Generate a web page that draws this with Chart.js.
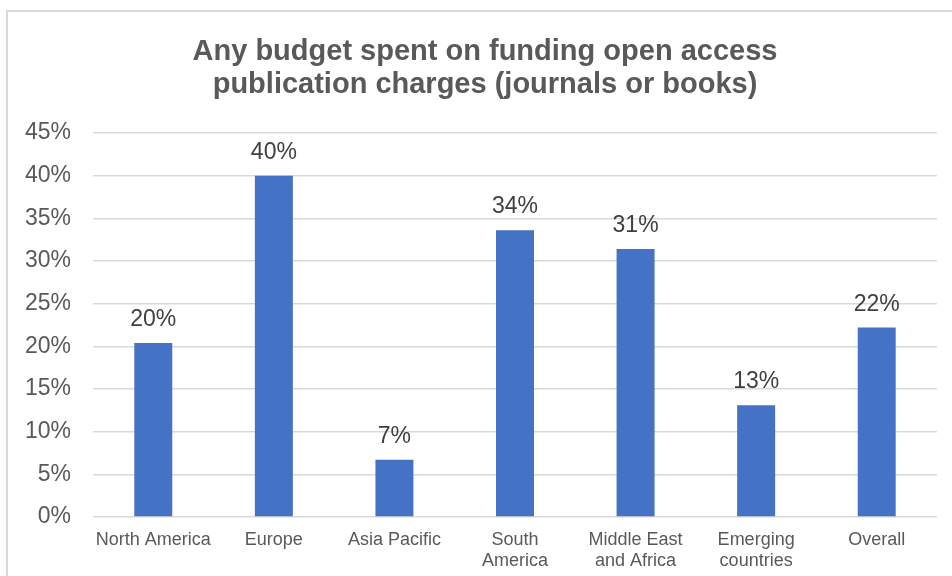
<!DOCTYPE html>
<html>
<head>
<meta charset="utf-8">
<script src="https://cdn.jsdelivr.net/npm/chart.js@4"></script>
<style>
    html, body { margin: 0; padding: 0; background: #fff; overflow: hidden; }
    #frame {
        position: absolute; left: 6px; top: 10px;
        width: 980px; height: 620px;
        border: 2px solid #d9d9d9;
    }
    #chart { position: absolute; left: 0; top: 0; }
</style>
</head>
<body>
<div id="frame"></div>
<canvas id="chart" width="952" height="576"></canvas>
<script>
const titleLines = ["Any budget spent on funding open access", "publication charges (journals or books)"];
const regions = ["North America", ["Europe"], "Asia Pacific", ["South", "America"], ["Middle East", "and Africa"], ["Emerging", "countries"], "Overall"];
const shareSpent = [20.4, 40.0, 6.7, 33.6, 31.4, 13.1, 22.2];
const yTicks = [0, 5, 10, 15, 20, 25, 30, 35, 40, 45];

const FONT = "'Liberation Sans', Arial, sans-serif";
const GREY = "#595959";

// two-line heading, centred a bit right of the canvas middle like the Excel original
const heading = {
    id: "heading",
    afterDraw(chart) {
        const ctx = chart.ctx;
        ctx.save();
        ctx.font = "bold 29px " + FONT;
        ctx.fillStyle = GREY;
        ctx.textAlign = "center";
        ctx.textBaseline = "alphabetic";
        titleLines.forEach((line, i) => {
            ctx.fillText(line, 485, 60 + i * 33);
        });
        ctx.restore();
    }
};

// value labels above each bar
const barLabels = {
    id: "barLabels",
    afterDatasetsDraw(chart) {
        const ctx = chart.ctx;
        const meta = chart.getDatasetMeta(0);
        ctx.save();
        ctx.font = "23px " + FONT;
        ctx.fillStyle = "#404040";
        ctx.textAlign = "center";
        ctx.textBaseline = "alphabetic";
        meta.data.forEach((bar, i) => {
            const val = chart.data.datasets[0].data[i];
            ctx.fillText(Math.round(val) + "%", bar.x, bar.y - 17);
        });
        ctx.restore();
    }
};

const chart = new Chart(document.getElementById("chart"), {
    type: "bar",
    data: {
        labels: regions,
        datasets: [{
            data: shareSpent,
            backgroundColor: "#4472C4",
            borderWidth: 0,
            categoryPercentage: 1,
            barPercentage: 0.315
        }]
    },
    options: {
        responsive: false,
        animation: false,
        layout: { padding: { left: 0, right: 15, top: 133, bottom: 0 } },
        plugins: {
            legend: { display: false },
            tooltip: { enabled: false },
            title: { display: false }
        },
        scales: {
            x: {
                grid: { display: false },
                border: { display: false },
                ticks: {
                    color: GREY,
                    font: { family: FONT, size: 18, lineHeight: 1.14 },
                    padding: 5,
                    maxRotation: 0,
                    autoSkip: false
                },
                afterFit: (scale) => { scale.height = 59; }
            },
            y: {
                min: 0,
                max: 45,
                afterBuildTicks: (scale) => { scale.ticks = yTicks.map(v => ({ value: v })); },
                grid: { color: "#d9d9d9", lineWidth: 1.5, drawTicks: false },
                border: { display: false },
                ticks: {
                    color: GREY,
                    font: { family: FONT, size: 23 },
                    padding: 22,
                    callback: (v) => v + "%"
                },
                afterFit: (scale) => { scale.width = 93; }
            }
        }
    },
    plugins: [barLabels, heading]
});
</script>
</body>
</html>
